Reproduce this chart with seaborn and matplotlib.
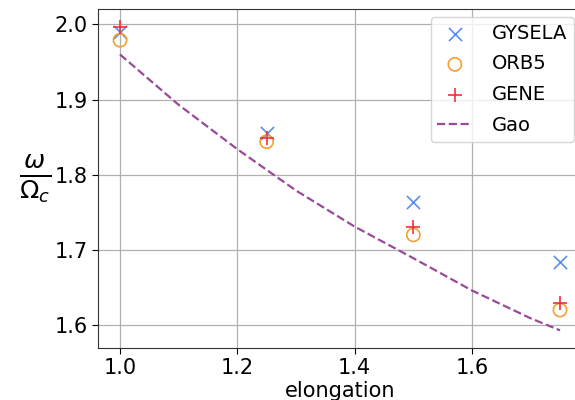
import matplotlib
matplotlib.use("Agg")
import matplotlib.pyplot as plt
import seaborn as sns
import numpy as np

elong = [1.0, 1.25, 1.5, 1.75]
gysela = [1.99, 1.856, 1.764, 1.684]
orb5 = [1.979, 1.844, 1.720, 1.620]
gene = [1.997, 1.849, 1.730, 1.629]
gao_x = [1.0, 1.1, 1.2, 1.3, 1.4, 1.5, 1.6, 1.7, 1.75]
gao_y = [1.960, 1.893, 1.834, 1.779, 1.731, 1.689, 1.646, 1.609, 1.593]

sns.set_style("ticks")
plt.rcParams['font.family'] = ['DejaVu Sans']
plt.rcParams['text.color'] = 'black'
plt.rcParams['axes.labelcolor'] = 'black'
plt.rcParams['xtick.color'] = 'black'
plt.rcParams['ytick.color'] = 'black'
fig = plt.figure(figsize=(5.75, 4), dpi=100)
ax = fig.add_axes([98/575, 52/400, 484/575, 339/400])

sns.scatterplot(x=elong, y=gysela, marker='x', s=90, color='#5b8def', linewidth=1.2, ax=ax, label='GYSELA', zorder=3)
sns.scatterplot(x=elong, y=orb5, marker='o', s=90, facecolors='none', edgecolor='#f5a030', linewidth=1.2, ax=ax, label='ORB5', zorder=3)
sns.scatterplot(x=elong, y=gene, marker='+', s=110, color='#f03040', linewidth=1.2, ax=ax, label='GENE', zorder=3)
sns.lineplot(x=gao_x, y=gao_y, color='#9a4a98', linestyle='--', linewidth=1.6, ax=ax, label='Gao', zorder=2)

ax.set_xlim(0.9625, 1.7875)
ax.set_ylim(1.5695, 2.0205)
ax.set_xticks([1.0, 1.2, 1.4, 1.6])
ax.set_yticks([1.6, 1.7, 1.8, 1.9, 2.0])
ax.grid(True, color='#b0b0b0', linewidth=0.9)
ax.tick_params(labelsize=15, length=4, colors='black')
ax.set_xlabel('elongation', fontsize=15, labelpad=2, color='black')
ax.set_ylabel(r'$\frac{\omega}{\Omega_c}$', fontsize=26, rotation=0, labelpad=22, va='center', color='black')
ax.yaxis.set_label_coords(-0.13, 0.5)
for sp in ax.spines.values():
    sp.set_color('#333333')

leg = ax.legend(loc='upper right', bbox_to_anchor=(574/575, 1 - 17/400), bbox_transform=fig.transFigure,
                fontsize=14, frameon=True, handlelength=1.8, borderpad=0.35, labelspacing=0.6,
                handletextpad=1.0, borderaxespad=0)
leg.get_frame().set_edgecolor('#cccccc')
for t in leg.get_texts():
    t.set_color('black')

fig.savefig('out.png', dpi=100)
